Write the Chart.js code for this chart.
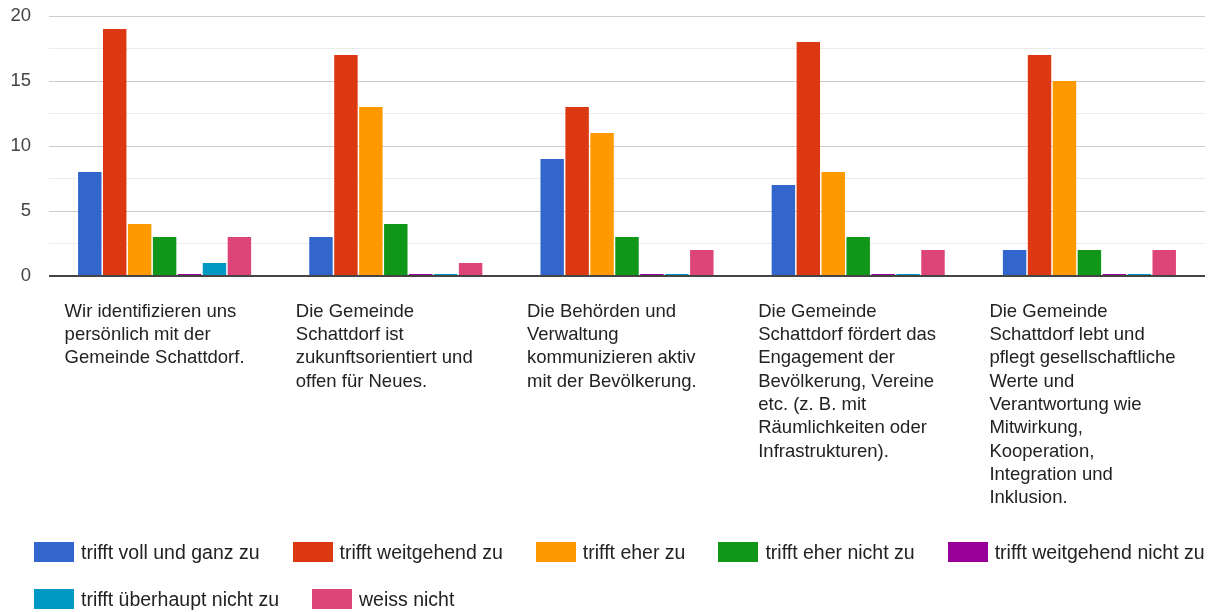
<!DOCTYPE html>
<html>
<head>
<meta charset="utf-8">
<script src="https://cdn.jsdelivr.net/npm/chart.js"></script>
<style>
  body { margin: 0; background: #fff; }
  #wrap { position: relative; width: 1211px; height: 612px; overflow: hidden; }
  #chart { position: absolute; left: 0; top: 0; }
  #legend { position: absolute; left: 34px; top: 542px; font-family: Arial, "Liberation Sans", sans-serif; font-size: 19.5px; color: #222; }
  .row { display: flex; white-space: nowrap; height: 47px; }
  .item { display: flex; align-items: flex-start; margin-right: 33px; }
  .box { width: 40px; height: 20px; margin-right: 7px; }
  .txt { line-height: 20px; }
</style>
</head>
<body>
<div id="wrap">
  <canvas id="chart" width="1211" height="612"></canvas>
  <div id="legend"></div>
</div>
<script>
const categories = [
  ['Wir identifizieren uns', 'persönlich mit der', 'Gemeinde Schattdorf.'],
  ['Die Gemeinde', 'Schattdorf ist', 'zukunftsorientiert und', 'offen für Neues.'],
  ['Die Behörden und', 'Verwaltung', 'kommunizieren aktiv', 'mit der Bevölkerung.'],
  ['Die Gemeinde', 'Schattdorf fördert das', 'Engagement der', 'Bevölkerung, Vereine', 'etc. (z. B. mit', 'Räumlichkeiten oder', 'Infrastrukturen).'],
  ['Die Gemeinde', 'Schattdorf lebt und', 'pflegt gesellschaftliche', 'Werte und', 'Verantwortung wie', 'Mitwirkung,', 'Kooperation,', 'Integration und', 'Inklusion.']
]

const seriesNames = [
  'trifft voll und ganz zu',
  'trifft weitgehend zu',
  'trifft eher zu',
  'trifft eher nicht zu',
  'trifft weitgehend nicht zu',
  'trifft überhaupt nicht zu',
  'weiss nicht'
]

const vollUndGanz = [8, 3, 9, 7, 2]
const weitgehend = [19, 17, 13, 18, 17]
const eher = [4, 13, 11, 8, 15]
const eherNicht = [3, 4, 3, 3, 2]
const weitgehendNicht = [0, 0, 0, 0, 0]
const ueberhauptNicht = [1, 0, 0, 0, 0]
const weissNicht = [3, 1, 2, 2, 2]

const yTicks = [0, 5, 10, 15, 20]

const seriesValues = [vollUndGanz, weitgehend, eher, eherNicht, weitgehendNicht, ueberhauptNicht, weissNicht]
const colors = ['#3366cc', '#dc3912', '#ff9900', '#109618', '#990099', '#0099c6', '#dd4477']

const datasets = seriesNames.map((name, i) => ({
  label: name,
  data: seriesValues[i],
  backgroundColor: colors[i],
  borderWidth: 0,
  minBarLength: 2,
  barPercentage: 0.94,
  categoryPercentage: 0.755
}))

const labelFont = { family: 'Arial, "Liberation Sans", sans-serif', size: 18.5 }

new Chart(document.getElementById('chart'), {
  type: 'bar',
  data: { labels: categories, datasets },
  options: {
    responsive: false,
    animation: false,
    devicePixelRatio: 1,
    layout: { padding: { left: 10, right: 6, top: 16, bottom: 102 } },
    plugins: {
      legend: { display: false },
      tooltip: { enabled: false }
    },
    scales: {
      x: {
        grid: { display: false, drawTicks: false },
        border: { display: false },
        ticks: {
          align: 'start',
          labelOffset: -100,
          padding: 24,
          maxRotation: 0,
          autoSkip: false,
          color: '#222',
          font: { ...labelFont, lineHeight: 1.26 }
        },
        afterFit: s => {
          // labels hang to the left of the tick, don't let chart.js reserve room for them
          s.paddingLeft = 0
          s.paddingRight = 0
          s.height = 234
        }
      },
      y: {
        min: 0,
        max: 20,
        border: { display: false },
        grid: {
          drawTicks: false,
          color: ctx => ctx.tick.value === 0 ? '#444' : (yTicks.includes(ctx.tick.value) ? '#cccccc' : '#ebebeb'),
          lineWidth: ctx => ctx.tick.value === 0 ? 2 : 1
        },
        ticks: {
          stepSize: 2.5,
          padding: 18,
          color: '#444',
          font: labelFont,
          callback: v => yTicks.includes(v) ? v : ''
        },
        afterFit: s => {
          s.width = 39
          s.paddingTop = 0
          s.paddingBottom = 0
        }
      }
    }
  }
})

// legend in two rows like the original
const legendRows = [[0, 1, 2, 3, 4], [5, 6]]
const legend = document.getElementById('legend')
legendRows.forEach(row => {
  const r = document.createElement('div')
  r.className = 'row'
  row.forEach(i => {
    const item = document.createElement('div')
    item.className = 'item'
    item.innerHTML = `<div class="box" style="background:${colors[i]}"></div><div class="txt">${seriesNames[i]}</div>`
    r.appendChild(item)
  })
  legend.appendChild(r)
})
</script>
</body>
</html>
